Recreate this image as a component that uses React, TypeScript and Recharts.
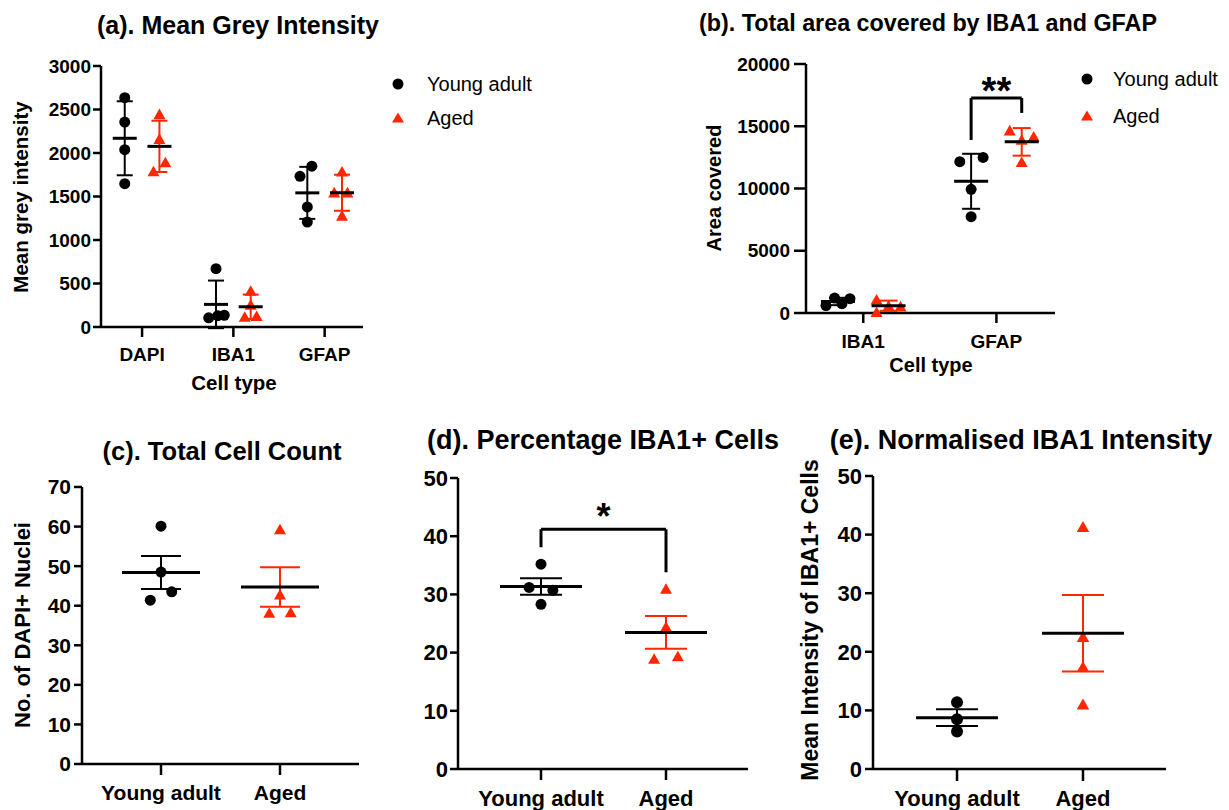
import React from 'react';
import { ScatterChart, Scatter, XAxis, YAxis, ErrorBar, ReferenceLine, ReferenceDot } from 'recharts';

const FONT = '"Liberation Sans", Arial, Helvetica, sans-serif';
const RED = '#ff2600';

// (a) mean grey intensity per cell type, bars = mean ± SD
const groupsA = ['DAPI', 'IBA1', 'GFAP'];
const youngA = [
  [2636, 2356, 2038, 1647],
  [670, 105, 130, 135],
  [1848, 1732, 1380, 1207],
];
const agedA = [
  [2450, 2165, 1793, 1897],
  [420, 260, 120, 130],
  [1790, 1550, 1550, 1283],
];
const youngAJitter = [[0, 0, 0, 0], [0, -0.08, 0.02, 0.09], [0.05, -0.08, 0, 0]];
const agedAJitter = [[0, 0, -0.065, 0.065], [0, 0, -0.065, 0.065], [0, -0.085, 0.06, 0]];
const ticksA = [0, 500, 1000, 1500, 2000, 2500, 3000];

// (b) area covered, bars = mean ± SD
const groupsB = ['IBA1', 'GFAP'];
const youngB = [
  [600, 1200, 750, 1150],
  [12150, 12500, 9930, 7740],
];
const agedB = [
  [1100, 100, 600, 550],
  [14690, 13940, 14200, 12150],
];
const youngBJitter = [[-0.09, -0.025, 0.03, 0.09], [-0.085, 0.09, 0, 0]];
const agedBJitter = [[-0.09, -0.09, 0, 0.09], [-0.09, 0, 0.09, 0]];
const ticksB = [0, 5000, 10000, 15000, 20000];
const bracketB = { x1: 0.81, x2: 1.19, top: 17270, leg1: 13900, leg2: 16070, label: '**', labelY: 17900 };

// (c)-(e) young adult vs aged, bars = mean ± SEM
const ageGroups = ['Young adult', 'Aged'];
const youngC = [60.1, 48.5, 43.5, 41.4];
const agedC = [59.4, 42.9, 38.3, 38.4];
const youngCJitter = [0, 0, 0.09, -0.09];
const agedCJitter = [0, 0, -0.09, 0.09];
const ticksC = [0, 10, 20, 30, 40, 50, 60, 70];

const youngD = [35.2, 31.2, 30.7, 28.3];
const agedD = [31.0, 24.5, 19.0, 19.4];
const youngDJitter = [0, -0.095, 0.095, 0];
const agedDJitter = [0, 0, -0.095, 0.095];
const ticksD = [0, 10, 20, 30, 40, 50];
const bracketD = { x1: 0, x2: 1, top: 41.2, leg1: 38.1, leg2: 33.8, label: '*', labelY: 43.4 };

const youngE = [11.4, 8.5, 6.4];
const agedE = [41.4, 22.6, 17.5, 11.1];
const ticksE = [0, 10, 20, 30, 40, 50];

type Pt = { x: number; y: number; err?: number };
type Bracket = { x1: number; x2: number; top: number; leg1: number; leg2: number; label: string; labelY: number };

const avg = (v: number[]) => v.reduce((s, d) => s + d, 0) / v.length;
const sd = (v: number[]) => {
  const m = avg(v);
  return Math.sqrt(v.reduce((s, d) => s + (d - m) ** 2, 0) / (v.length - 1));
};
const points = (vals: number[], jit: number[], x: number): Pt[] => vals.map((y, i) => ({ x: x + jit[i], y }));
const stat = (vals: number[], x: number, sem: boolean): Pt => ({
  x,
  y: avg(vals),
  err: sem ? sd(vals) / Math.sqrt(vals.length) : sd(vals),
});

const circleShape = (r: number) => (p: any) => <circle cx={p.cx} cy={p.cy} r={r} fill="#000" />;
const triangleShape = (w: number) => (p: any) => {
  const h = w * 0.88;
  return (
    <polygon
      points={`${p.cx},${p.cy - h / 2} ${p.cx - w / 2},${p.cy + h / 2} ${p.cx + w / 2},${p.cy + h / 2}`}
      fill={RED}
    />
  );
};
const meanShape = (half: number) => (p: any) => (
  <line x1={p.cx - half} x2={p.cx + half} y1={p.cy} y2={p.cy} stroke="#000" strokeWidth={3} />
);

interface PanelProps {
  left: number;
  top: number;
  width: number;
  height: number;
  margin: { top: number; right: number; bottom: number; left: number };
  yWidth: number;
  xHeight: number;
  xDomain: [number, number];
  names: string[];
  yDomain: [number, number];
  yTicks: number[];
  clipY?: boolean;
  young: Pt[];
  aged: Pt[];
  youngStats: Pt[];
  agedStats: Pt[];
  fontSize: number;
  yTickSize: number;
  yTickMargin: number;
  xTickSize: number;
  xTickMargin: number;
  dot: number;
  tri: number;
  meanHalf: number;
  capHalf: number;
  bracket?: Bracket;
  starSize?: number;
}

function Panel(p: PanelProps) {
  const tick = { fill: '#000', fontSize: p.fontSize, fontWeight: 700, fontFamily: FONT };
  const axis = { stroke: '#000', strokeWidth: 2.5 };
  const b = p.bracket;
  return (
    <div style={{ position: 'absolute', left: p.left, top: p.top }}>
      <ScatterChart width={p.width} height={p.height} margin={p.margin}>
        <XAxis
          type="number"
          dataKey="x"
          domain={p.xDomain}
          ticks={p.names.map((_, i) => i)}
          tickFormatter={(v: number) => p.names[v]}
          interval={0}
          height={p.xHeight}
          tick={tick}
          axisLine={axis}
          tickLine={axis}
          tickSize={p.xTickSize}
          tickMargin={p.xTickMargin}
        />
        <YAxis
          type="number"
          dataKey="y"
          domain={p.yDomain}
          ticks={p.yTicks}
          interval={0}
          allowDataOverflow={!!p.clipY}
          width={p.yWidth}
          tick={tick}
          axisLine={axis}
          tickLine={axis}
          tickSize={p.yTickSize}
          tickMargin={p.yTickMargin}
        />
        <Scatter name="Young adult" data={p.young} shape={circleShape(p.dot)} isAnimationActive={false} />
        <Scatter name="Aged" data={p.aged} shape={triangleShape(p.tri)} isAnimationActive={false} />
        <Scatter data={p.youngStats} shape={meanShape(p.meanHalf)} isAnimationActive={false}>
          <ErrorBar dataKey="err" direction="y" width={p.capHalf} stroke="#000" strokeWidth={2} isAnimationActive={false} />
        </Scatter>
        <Scatter data={p.agedStats} shape={meanShape(p.meanHalf)} isAnimationActive={false}>
          <ErrorBar dataKey="err" direction="y" width={p.capHalf} stroke={RED} strokeWidth={2} isAnimationActive={false} />
        </Scatter>
        {b && (
          <ReferenceLine segment={[{ x: b.x1, y: b.top }, { x: b.x2, y: b.top }]} stroke="#000" strokeWidth={3} />
        )}
        {b && (
          <ReferenceLine segment={[{ x: b.x1, y: b.leg1 }, { x: b.x1, y: b.top }]} stroke="#000" strokeWidth={3} />
        )}
        {b && (
          <ReferenceLine segment={[{ x: b.x2, y: b.leg2 }, { x: b.x2, y: b.top }]} stroke="#000" strokeWidth={3} />
        )}
        {b && (
          <ReferenceDot
            x={(b.x1 + b.x2) / 2}
            y={b.labelY}
            r={0}
            fill="none"
            stroke="none"
            label={{ value: b.label, position: 'center', fill: '#000', fontSize: p.starSize, fontWeight: 700, fontFamily: FONT }}
          />
        )}
      </ScatterChart>
    </div>
  );
}

function Text({ x, y, size, children, rotate, weight = 700 }: any) {
  return (
    <div
      style={{
        position: 'absolute',
        left: x,
        top: y,
        transform: `translate(-50%, -50%)${rotate ? ' rotate(-90deg)' : ''}`,
        whiteSpace: 'nowrap',
        fontSize: size,
        fontWeight: weight,
        lineHeight: 1,
        color: '#000',
      }}
    >
      {children}
    </div>
  );
}

function LegendBox({ x, textX, y1, y2 }: { x: number; textX: number; y1: number; y2: number }) {
  const item = (y: number, label: string, icon: React.ReactNode) => (
    <>
      <svg style={{ position: 'absolute', left: x - 8, top: y - 8 }} width={16} height={16}>
        {icon}
      </svg>
      <div style={{ position: 'absolute', left: textX, top: y - 12, fontSize: 20, lineHeight: '24px', whiteSpace: 'nowrap' }}>
        {label}
      </div>
    </>
  );
  return (
    <>
      {item(y1, 'Young adult', <circle cx={8} cy={8} r={5.5} fill="#000" />)}
      {item(y2, 'Aged', <polygon points="8,2.5 2,12.5 14,12.5" fill={RED} />)}
    </>
  );
}

const flat = (vals: number[][], jit: number[][], shift: number) =>
  vals.flatMap((v, g) => points(v, jit[g], g + shift));

export default function App() {
  return (
    <div style={{ position: 'relative', width: 1229, height: 810, background: '#fff', fontFamily: FONT, overflow: 'hidden' }}>
      <style>{'body{margin:0;}'}</style>

      {/* (a) */}
      <Panel
        left={0}
        top={0}
        width={380}
        height={400}
        margin={{ top: 66, right: 17, bottom: 0, left: 0 }}
        yWidth={101}
        xHeight={73}
        xDomain={[-0.45, 2.42]}
        names={groupsA}
        yDomain={[0, 3000]}
        yTicks={ticksA}
        clipY
        young={flat(youngA, youngAJitter, -0.19)}
        aged={flat(agedA, agedAJitter, 0.19)}
        youngStats={youngA.map((v, g) => stat(v, g - 0.19, false))}
        agedStats={agedA.map((v, g) => stat(v, g + 0.19, false))}
        fontSize={19}
        yTickSize={8}
        yTickMargin={2}
        xTickSize={10}
        xTickMargin={11}
        dot={5.5}
        tri={12}
        meanHalf={12}
        capHalf={8}
      />
      <Text x={238} y={25} size={25}>(a). Mean Grey Intensity</Text>
      <Text x={21} y={197} size={20.5} rotate>Mean grey intensity</Text>
      <Text x={234} y={383} size={20.5}>Cell type</Text>
      <LegendBox x={398} textX={427} y1={84} y2={118} />

      {/* (b) */}
      <Panel
        left={700}
        top={0}
        width={375}
        height={380}
        margin={{ top: 64, right: 20, bottom: 7, left: 0 }}
        yWidth={106}
        xHeight={60}
        xDomain={[-0.43, 1.44]}
        names={groupsB}
        yDomain={[0, 20000]}
        yTicks={ticksB}
        young={flat(youngB, youngBJitter, -0.19)}
        aged={flat(agedB, agedBJitter, 0.19)}
        youngStats={youngB.map((v, g) => stat(v, g - 0.19, false))}
        agedStats={agedB.map((v, g) => stat(v, g + 0.19, false))}
        fontSize={19}
        yTickSize={12}
        yTickMargin={4}
        xTickSize={10}
        xTickMargin={12}
        dot={5.5}
        tri={12}
        meanHalf={17}
        capHalf={9}
        bracket={bracketB}
        starSize={38}
      />
      <Text x={928} y={24} size={23.3}>(b). Total area covered by IBA1 and GFAP</Text>
      <Text x={714} y={188} size={20} rotate>Area covered</Text>
      <Text x={931} y={365} size={20}>Cell type</Text>
      <LegendBox x={1087} textX={1113} y1={79} y2={116} />

      {/* (c) */}
      <Panel
        left={0}
        top={420}
        width={380}
        height={390}
        margin={{ top: 67, right: 21, bottom: 0, left: 0 }}
        yWidth={82}
        xHeight={46}
        xDomain={[-0.664, 1.664]}
        names={ageGroups}
        yDomain={[0, 70]}
        yTicks={ticksC}
        young={points(youngC, youngCJitter, 0)}
        aged={points(agedC, agedCJitter, 1)}
        youngStats={[stat(youngC, 0, true)]}
        agedStats={[stat(agedC, 1, true)]}
        fontSize={21}
        yTickSize={8}
        yTickMargin={3}
        xTickSize={11}
        xTickMargin={10}
        dot={5.5}
        tri={12}
        meanHalf={39}
        capHalf={20}
      />
      <Text x={222} y={452} size={25.5}>(c). Total Cell Count</Text>
      <Text x={23} y={625} size={22} rotate>No. of DAPI+ Nuclei</Text>

      {/* (d) */}
      <Panel
        left={400}
        top={420}
        width={370}
        height={390}
        margin={{ top: 58, right: 22, bottom: 0, left: 0 }}
        yWidth={58}
        xHeight={41}
        xDomain={[-0.664, 1.656]}
        names={ageGroups}
        yDomain={[0, 50]}
        yTicks={ticksD}
        young={points(youngD, youngDJitter, 0)}
        aged={points(agedD, agedDJitter, 1)}
        youngStats={[stat(youngD, 0, true)]}
        agedStats={[stat(agedD, 1, true)]}
        fontSize={22}
        yTickSize={8}
        yTickMargin={2}
        xTickSize={11}
        xTickMargin={10}
        dot={5.5}
        tri={12}
        meanHalf={41}
        capHalf={21}
        bracket={bracketD}
        starSize={36}
      />
      <Text x={603} y={440} size={27}>(d). Percentage IBA1+ Cells</Text>

      {/* (e) */}
      <Panel
        left={800}
        top={420}
        width={386}
        height={390}
        margin={{ top: 56, right: 20, bottom: 0, left: 0 }}
        yWidth={73}
        xHeight={41}
        xDomain={[-0.667, 1.659]}
        names={ageGroups}
        yDomain={[0, 50]}
        yTicks={ticksE}
        young={points(youngE, [0, 0, 0], 0)}
        aged={points(agedE, [0, 0, 0, 0], 1)}
        youngStats={[stat(youngE, 0, true)]}
        agedStats={[stat(agedE, 1, true)]}
        fontSize={22}
        yTickSize={8}
        yTickMargin={3}
        xTickSize={12}
        xTickMargin={9}
        dot={6}
        tri={12.5}
        meanHalf={41}
        capHalf={21}
      />
      <Text x={1021} y={440} size={27}>(e). Normalised IBA1 Intensity</Text>
      <Text x={810} y={620} size={23} rotate>Mean Intensity of IBA1+ Cells</Text>
    </div>
  );
}
